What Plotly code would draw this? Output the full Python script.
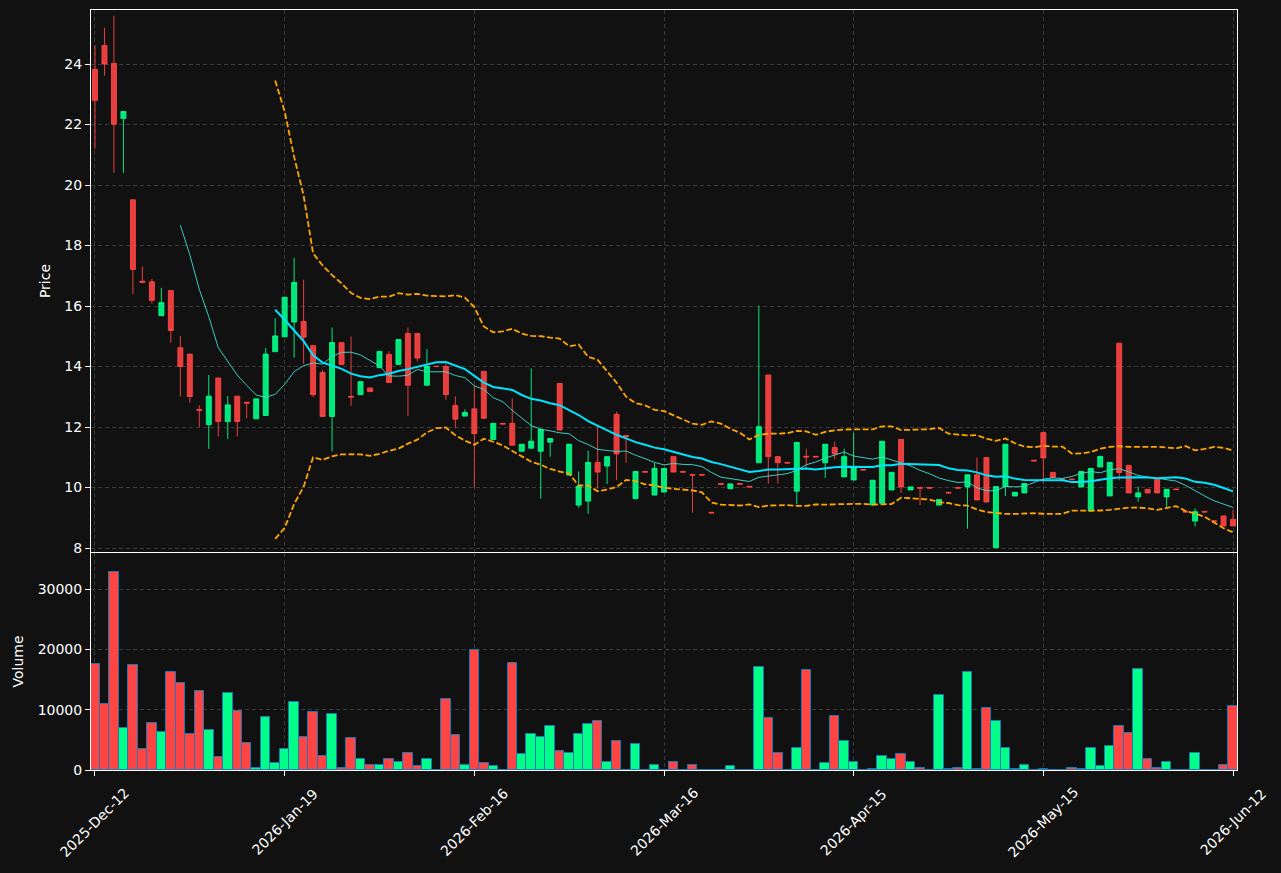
import plotly.graph_objects as go
from plotly.subplots import make_subplots
import pandas as pd

opens = [23.82, 24.61, 24.02, 22.20, 19.51, 16.82, 16.80, 15.68, 16.51, 14.62,
         14.41, 12.58, 12.08, 13.62, 12.18, 13.02, 12.82, 12.27, 12.38, 14.49,
         14.98, 15.47, 15.49, 14.69, 13.80, 12.35, 14.79, 13.01, 13.07, 13.29,
         13.96, 14.40, 14.07, 15.09, 15.09, 13.38, 14.01, 14.00, 12.71, 12.36,
         12.60, 13.84, 11.59, 12.12, 12.12, 11.20, 11.30, 11.20, 11.50, 13.44,
         10.41, 9.42, 9.55, 10.83, 10.71, 12.42, 11.72, 9.63, 10.53, 9.75,
         9.85, 11.02, 10.53, 10.43, 10.43, 9.18, 10.13, 9.96, 10.13, 10.04,
         10.82, 13.72, 11.02, 10.83, 9.88, 11.03, 11.03, 10.82, 11.32, 10.35,
         10.25, 10.60, 9.42, 9.48, 9.92, 11.59, 9.92, 10.00, 10.00, 9.42,
         9.84, 10.00, 10.02, 10.42, 10.99, 8.01, 10.03, 9.72, 9.82, 10.90,
         11.82, 10.50, 10.28, 10.28, 10.02, 9.22, 10.68, 9.72, 14.77, 10.73,
         9.69, 9.94, 10.29, 9.69, 9.95, 9.21, 8.89, 9.21, 8.90, 9.06,
         8.95]
highs = [24.61, 25.20, 25.60, 22.43, 19.51, 17.31, 16.89, 16.60, 16.51, 15.01,
         14.41, 12.72, 13.72, 13.62, 13.02, 13.02, 12.82, 12.93, 14.62, 15.60,
         16.29, 17.59, 16.87, 14.69, 13.89, 15.29, 14.79, 14.99, 13.50, 13.29,
         14.50, 14.50, 14.89, 15.29, 15.09, 14.58, 14.01, 14.09, 13.01, 12.58,
         13.37, 13.84, 12.12, 12.12, 12.94, 11.43, 13.94, 11.92, 11.62, 13.44,
         11.43, 10.53, 11.22, 12.03, 11.02, 12.51, 11.72, 10.53, 10.53, 10.82,
         10.63, 11.02, 10.53, 10.43, 10.43, 9.18, 10.13, 10.12, 10.13, 10.04,
         16.00, 13.72, 11.02, 10.83, 11.49, 11.28, 11.03, 11.43, 11.52, 11.28,
         11.81, 10.60, 10.24, 11.53, 10.50, 11.59, 10.02, 10.00, 10.00, 9.60,
         9.84, 10.00, 10.42, 10.99, 10.99, 10.03, 11.43, 9.84, 10.13, 10.90,
         11.82, 10.50, 10.28, 10.28, 10.53, 10.63, 11.03, 10.83, 14.77, 10.73,
         10.03, 9.94, 10.29, 9.94, 9.95, 9.21, 9.31, 9.21, 8.90, 9.06,
         9.25]
lows = [21.20, 23.61, 20.40, 20.40, 16.39, 16.78, 16.08, 15.68, 14.79, 13.01,
        12.80, 12.00, 11.28, 11.69, 11.60, 11.69, 12.29, 12.27, 12.38, 14.49,
        14.98, 14.29, 14.09, 12.99, 12.35, 11.19, 14.07, 12.69, 13.07, 13.17,
        13.96, 13.47, 14.07, 12.36, 14.17, 13.38, 14.00, 12.90, 11.96, 12.36,
        10.00, 12.29, 11.59, 12.10, 11.40, 11.20, 11.30, 9.63, 11.02, 11.90,
        10.41, 9.33, 9.13, 9.96, 10.12, 10.24, 10.82, 9.63, 10.51, 9.75,
        9.85, 10.51, 10.51, 9.17, 10.41, 9.16, 10.11, 9.96, 10.11, 10.02,
        10.82, 10.13, 10.13, 10.81, 9.44, 10.65, 11.01, 10.32, 10.93, 10.35,
        10.25, 10.58, 9.42, 9.48, 9.92, 9.82, 9.92, 9.42, 9.98, 9.42,
        9.82, 9.98, 8.64, 9.59, 9.52, 8.01, 9.72, 9.72, 9.82, 10.88,
        10.13, 10.33, 10.26, 10.26, 10.02, 9.22, 10.68, 9.72, 10.24, 9.82,
        9.53, 9.82, 9.82, 9.36, 9.93, 9.19, 8.71, 9.19, 8.88, 8.73,
        8.73]
closes = [22.80, 24.00, 22.01, 22.43, 17.21, 16.78, 16.19, 16.11, 15.19, 14.00,
          13.01, 12.55, 13.02, 12.18, 12.73, 12.18, 12.79, 12.93, 14.41, 15.01,
          16.29, 16.78, 14.97, 13.07, 12.35, 14.79, 14.07, 12.99, 13.50, 13.17,
          14.50, 13.47, 14.89, 13.38, 14.28, 14.00, 14.00, 13.07, 12.26, 12.48,
          11.78, 12.29, 12.12, 12.10, 11.40, 11.43, 11.53, 11.92, 11.62, 11.90,
          11.43, 10.04, 10.83, 10.51, 11.02, 11.11, 11.68, 10.53, 10.51, 10.63,
          10.63, 10.51, 10.51, 10.41, 10.41, 9.16, 10.11, 10.12, 10.11, 10.02,
          12.01, 11.02, 10.82, 10.81, 11.49, 11.01, 11.01, 11.43, 11.11, 11.02,
          10.68, 10.58, 10.24, 11.53, 10.50, 10.02, 10.02, 9.98, 9.98, 9.60,
          9.82, 9.98, 10.42, 9.59, 9.52, 10.03, 11.43, 9.84, 10.13, 10.88,
          10.98, 10.33, 10.26, 10.26, 10.53, 10.63, 11.03, 10.83, 10.49, 9.82,
          9.82, 9.82, 9.82, 9.94, 9.93, 9.19, 9.20, 9.19, 8.88, 8.73,
          8.73]
volumes = [17600, 10900, 32800, 6900, 17400, 3400, 7800, 6300, 16300, 14400,
           5900, 13100, 6600, 2200, 12800, 9800, 4400, 300, 8800, 1100,
           3400, 11300, 5400, 9600, 2400, 9300, 300, 5300, 1900, 900,
           800, 1800, 1400, 2900, 600, 1800, 0, 11800, 5800, 900,
           19900, 1100, 600, 0, 17800, 2600, 5900, 5400, 7300, 3100,
           2800, 5900, 7600, 8100, 1400, 4800, 0, 4300, 0, 800,
           0, 1300, 0, 900, 0, 0, 0, 600, 0, 0,
           17100, 8600, 2800, 0, 3600, 16600, 0, 1100, 8900, 4800,
           1400, 0, 200, 2300, 1900, 2600, 1300, 300, 0, 12400,
           100, 400, 16300, 100, 10300, 8100, 3600, 100, 800, 0,
           100, 0, 0, 300, 100, 3600, 600, 3900, 7300, 6100,
           16800, 1800, 400, 1300, 0, 0, 2800, 0, 0, 800,
           10600]
tick_index = [0, 20, 40, 60, 80, 100, 120]
tick_labels = ["2025-Dec-12", "2026-Jan-19", "2026-Feb-16", "2026-Mar-16",
               "2026-Apr-15", "2026-May-15", "2026-Jun-12"]

GREEN = "#00ff88"
RED = "#ff4444"
BG = "#111111"
GRID = "#3a3a3a"

x = list(range(len(closes)))
s = pd.Series(closes)
ma10 = s.rolling(10).mean()
ma20 = s.rolling(20).mean()
sd20 = s.rolling(20).std(ddof=0)
bb_up = ma20 + 2 * sd20
bb_lo = ma20 - 2 * sd20

vol_colors = [GREEN if c >= o else RED for o, c in zip(opens, closes)]

fig = make_subplots(rows=2, cols=1, shared_xaxes=True,
                    vertical_spacing=1 / 760,
                    row_heights=[542, 217])

fig.add_trace(go.Candlestick(
    x=x, open=opens, high=highs, low=lows, close=closes,
    increasing=dict(line=dict(color="rgba(0,255,136,0.9)", width=1),
                    fillcolor="rgba(0,255,136,0.9)"),
    decreasing=dict(line=dict(color="rgba(255,68,68,0.9)", width=1),
                    fillcolor="rgba(255,68,68,0.9)"),
    whiskerwidth=0, showlegend=False, hoverinfo="skip"), row=1, col=1)

fig.add_trace(go.Scatter(x=x, y=ma10, mode="lines",
                         line=dict(color="rgba(64,224,208,0.9)", width=1),
                         showlegend=False, hoverinfo="skip"), row=1, col=1)
fig.add_trace(go.Scatter(x=x, y=ma20, mode="lines",
                         line=dict(color="#00e5ff", width=2),
                         showlegend=False, hoverinfo="skip"), row=1, col=1)
for band in (bb_up, bb_lo):
    fig.add_trace(go.Scatter(x=x, y=band, mode="lines",
                             line=dict(color="#ffa500", width=1.8, dash="6px,2.5px"),
                             showlegend=False, hoverinfo="skip"), row=1, col=1)

fig.add_trace(go.Bar(x=x, y=volumes, width=1.0,
                     marker=dict(color=vol_colors, line=dict(color="#1f77b4", width=1)),
                     showlegend=False, hoverinfo="skip"), row=2, col=1)

axis_font = dict(family="DejaVu Sans", size=14, color="white")
common_axis = dict(showline=True, linecolor="white", linewidth=1, mirror=True,
                   ticks="outside", tickcolor="white", ticklen=5,
                   showgrid=True, gridcolor=GRID, griddash="4px,3px", gridwidth=1,
                   zeroline=False, tickfont=axis_font)

fig.update_xaxes(**common_axis, range=[-0.42, 120.42],
                 tickvals=tick_index, ticktext=tick_labels,
                 showticklabels=False, rangeslider_visible=False)
fig.update_xaxes(ticks="", row=1, col=1)

# rotated date labels centred on their ticks
for ti, lab in zip(tick_index, tick_labels):
    fig.add_annotation(x=ti, xref="x2", y=-0.0684, yref="paper",
                       text=lab, textangle=-45, showarrow=False,
                       xanchor="center", yanchor="middle", font=axis_font)

fig.update_yaxes(**common_axis)
fig.update_yaxes(range=[7.868, 25.785], tickvals=[8, 10, 12, 14, 16, 18, 20, 22, 24],
                 title=dict(text="Price", font=axis_font, standoff=10), row=1, col=1)
fig.update_yaxes(range=[0, 35970], tickvals=[0, 10000, 20000, 30000], tickformat="d",
                 title=dict(text="Volume", font=axis_font, standoff=10), row=2, col=1)

fig.update_layout(width=1281, height=873,
                  margin=dict(l=91, r=44, t=10, b=103),
                  paper_bgcolor=BG, plot_bgcolor=BG,
                  font=axis_font, bargap=0, boxgap=0.25, boxgroupgap=0.3,
                  showlegend=False)

fig.write_html("out.html")
